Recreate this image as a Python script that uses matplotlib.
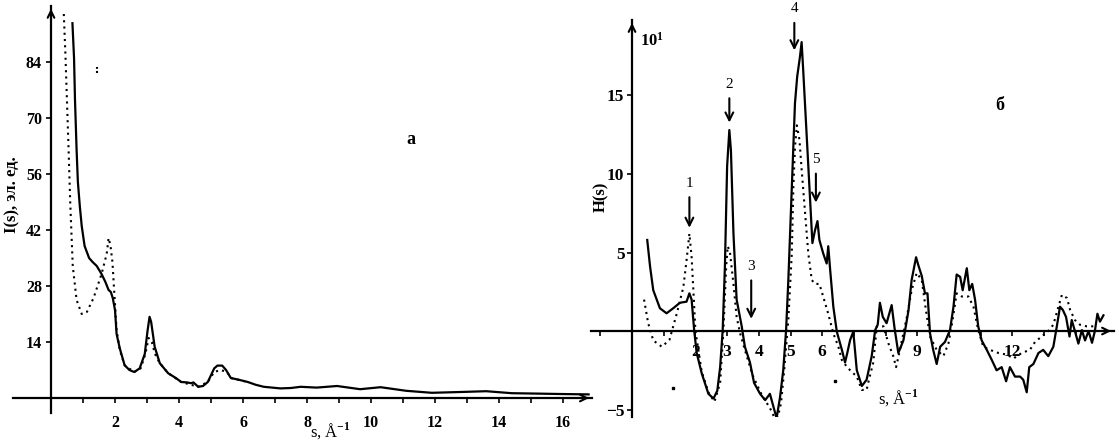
import matplotlib
matplotlib.use("Agg")
import matplotlib.pyplot as plt

W, H = 1119, 445

# --- panel "а": I(s) ---
s_i = [0.67, 0.72, 0.75, 0.8, 0.84, 0.9, 0.96, 1.05, 1.19, 1.3, 1.43, 1.58, 1.7, 1.8, 1.87,
       1.93, 2.0, 2.05, 2.15, 2.3, 2.45, 2.6, 2.77, 2.93, 3.02, 3.08, 3.13, 3.24, 3.4, 3.66,
       3.9, 4.07, 4.25, 4.38, 4.45, 4.6, 4.75, 4.9, 5.1, 5.2, 5.35, 5.47, 5.62, 5.9, 6.15,
       6.4, 6.65, 7.17, 7.5, 7.8, 8.3, 8.94, 9.66, 10.3, 11.1, 11.9, 12.8, 13.6, 14.4, 15.2,
       15.9, 16.8]
i_solid = [93.7, 85, 74.5, 62, 54, 48, 43, 38, 35, 34, 33, 31, 29, 27, 26.5,
           25, 22, 16, 12.4, 8.2, 7, 6.5, 7.4, 11, 17, 20.3, 19, 12.8, 8.7, 6.2,
           5, 4, 3.9, 3.7, 3.9, 2.8, 3.0, 4, 7.4, 8.1, 8.1, 7, 5, 4.5, 4,
           3.3, 2.8, 2.4, 2.5, 2.8, 2.6, 3, 2.2, 2.7, 1.8, 1.3, 1.5, 1.7, 1.2, 1.1,
           1.0, 0.9]

s_i_dot = [0.4, 0.45, 0.5, 0.55, 0.6, 0.68, 0.8, 0.96, 1.12, 1.33, 1.58, 1.74, 1.8, 1.86,
           1.92, 1.98, 2.05, 2.15, 2.3, 2.6, 2.8, 2.95, 3.05, 3.15, 3.25, 3.4, 3.66, 4.07,
           4.6, 4.9, 5.1, 5.3, 5.5, 5.62, 6.15]
i_dot = [96, 86, 74, 62, 49, 33, 24.5, 21, 21.5, 25, 31, 36, 40, 38,
         34, 26, 17, 12, 8.2, 6.5, 7.4, 11, 15, 14, 11, 8.7, 6.2, 4,
         2.8, 4, 6.5, 7, 6.5, 5, 4]

# stray dots (":" near s=1.4)
s_i_stray = [1.43, 1.43]
i_stray = [81.3, 82.8]

i_xticks = list(range(1, 17))
i_yticks = [14, 28, 42, 56, 70, 84]

# --- panel "б": H(s) ---
s_h = [0.48, 0.57, 0.67, 0.88, 1.09, 1.3, 1.51, 1.72, 1.81, 1.88, 1.96, 2.04, 2.2, 2.41,
       2.57, 2.69, 2.78, 2.86, 2.93, 3.0, 3.07, 3.12, 3.2, 3.3, 3.46, 3.56, 3.72, 3.85,
       4.04, 4.2, 4.35, 4.46, 4.56, 4.67, 4.77, 4.86, 4.93, 5.04, 5.14, 5.21, 5.3, 5.35,
       5.4, 5.51, 5.62, 5.69, 5.77, 5.85, 5.91, 6.03, 6.14, 6.19, 6.25, 6.35, 6.46, 6.62,
       6.72, 6.79, 6.88, 6.98, 7.09, 7.25, 7.4, 7.56, 7.67, 7.75, 7.82, 7.91, 8.03, 8.19,
       8.28, 8.4, 8.56, 8.72, 8.82, 8.96, 9.03, 9.14, 9.24, 9.32, 9.4, 9.5, 9.61, 9.72,
       9.87, 10.03, 10.14, 10.24, 10.35, 10.43, 10.56, 10.64, 10.73, 10.82, 10.92, 11.03,
       11.19, 11.35, 11.5, 11.66, 11.8, 11.92, 12.08, 12.24, 12.34, 12.45, 12.53, 12.66,
       12.82, 12.97, 13.13, 13.29, 13.4, 13.5, 13.59, 13.69, 13.8, 13.87, 13.97, 14.08,
       14.19, 14.29, 14.4, 14.51, 14.6, 14.68, 14.76, 14.87]
h_solid = [5.8, 4.1, 2.6, 1.45, 1.13, 1.45, 1.8, 1.87, 2.4, 2.0, 0.06, -1.4, -2.7, -4.0,
           -4.3, -3.8, -2.3, 0.06, 4.1, 10.5, 12.8, 11.5, 6.2, 2.0, 0.3, -1.0, -2.0, -3.3,
           -4.0, -4.4, -4.0, -4.8, -5.55, -4.2, -2.5, 0.06, 3.2, 9.2, 14.5, 16.2, 17.5, 18.4,
           16.6, 12.4, 8.1, 5.6, 6.4, 7.0, 5.8, 4.95, 4.3, 5.4, 3.9, 1.55, -0.04, -1.2,
           -2.0, -1.4, -0.57, -0.04, -2.5, -3.5, -3.1, -1.6, 0.06, 0.4, 1.8, 0.9, 0.5, 1.65,
           0.2, -1.4, -0.6, 1.3, 3.25, 4.7, 4.2, 3.5, 2.4, 2.4, -0.15, -1.2, -2.1, -1.0,
           -0.7, 0.06, 1.55, 3.6, 3.45, 2.6, 4.0, 2.6, 3.0, 2.0, 0.3, -0.6,
           -1.2, -1.85, -2.5, -2.3, -3.2, -2.3, -2.9, -2.9, -3.1, -3.9, -2.3, -2.1,
           -1.4, -1.2, -1.6, -1.0, 0.3, 1.55, 1.34, 0.9, -0.35, 0.7, 0.0, -0.8,
           0.06, -0.6, 0.0, -0.75, 0.0, 1.1, 0.6, 1.0]

s_h_dot = [0.38, 0.51, 0.67, 0.94, 1.18, 1.41, 1.62, 1.72, 1.81, 1.88, 1.93, 2.0, 2.2, 2.41,
           2.6, 2.78, 2.88, 2.97, 3.02, 3.09, 3.2, 3.3, 3.41, 3.56, 3.8, 4.1, 4.35, 4.56,
           4.7, 4.8, 4.93, 5.04, 5.09, 5.14, 5.2, 5.28, 5.35, 5.46, 5.56, 5.67, 5.77, 5.91,
           6.03, 6.19, 6.35, 6.51, 6.62, 6.75, 6.88, 7.09, 7.25, 7.4, 7.45, 7.61, 7.72, 7.93,
           8.09, 8.24, 8.33, 8.45, 8.67, 8.82, 8.98, 9.14, 9.27, 9.4, 9.61, 9.82, 9.98, 10.08,
           10.24, 10.4, 10.61, 10.77, 10.92, 11.08, 11.29, 11.56, 11.82, 12.03, 12.29, 12.55,
           12.71, 12.92, 13.13, 13.29, 13.45, 13.56, 13.72, 13.82, 13.97, 14.13, 14.34, 14.55]
h_dot = [2.0, 0.5, -0.6, -1.0, -0.57, 1.1, 2.8, 4.5, 6.2, 4.7, 2.8, 0.0, -2.6, -3.9,
         -4.5, -3.3, -0.1, 4.1, 5.4, 5.0, 3.0, 0.9, -0.15, -1.2, -2.8, -4.1, -4.9, -5.8,
         -4.6, -2.5, 0.7, 4.95, 9.2, 11.7, 13.1, 12.2, 10.3, 7.5, 4.95, 3.25, 3.0, 3.0,
         2.2, 1.1, -0.15, -1.0, -1.85, -2.2, -2.5, -2.9, -3.75, -3.75, -3.3, -2.0, 0.3, 0.3,
         -0.8, -1.6, -2.3, -1.2, 0.9, 2.6, 3.7, 3.25, 1.34, -0.35, -1.2, -1.6, -0.8, 0.3,
         2.4, 2.2, 2.2, 1.55, 0.06, -1.0, -1.2, -1.4, -1.5, -1.75, -1.4, -1.2,
         -0.7, -0.35, 0.0, 0.4, 1.55, 2.3, 2.1, 1.34, 0.7, 0.4, 0.3, 0.3]

s_h_stray = [1.28, 6.4]
h_stray = [-3.6, -3.2]

h_xticks = [-1, 1, 2, 3, 4, 5, 6, 7, 8, 9, 10, 11, 12, 13, 14]
h_xlabels = {2: "2", 3: "3", 4: "4", 5: "5", 6: "6", 9: "9", 12: "12"}
h_yticks = [-5, 5, 10, 15]

# peak markers: number, s position, arrow top / tip in H units
peak_num = ["1", "2", "3", "4", "5"]
peak_s = [1.81, 3.07, 3.76, 5.12, 5.8]
peak_top = [8.7, 15.0, 3.4, 19.8, 10.2]
peak_tip = [6.4, 13.1, 0.6, 17.7, 8.0]

SERIF = ["Liberation Serif", "DejaVu Serif"]
plt.rcParams["font.family"] = SERIF
plt.rcParams["mathtext.fontset"] = "custom"
plt.rcParams["mathtext.rm"] = "Liberation Serif"
plt.rcParams["mathtext.bf"] = "Liberation Serif:bold"


def eixos_px(fig, x0, x1, y0, y1):
    # y0 = top pixel, y1 = bottom pixel
    return fig.add_axes([x0 / W, 1 - y1 / H, (x1 - x0) / W, (y1 - y0) / H])


def estilo_eixos(ax, xlim, ylim, ypad, xpad, fs):
    ax.set_xlim(*xlim)
    ax.set_ylim(*ylim)
    ax.patch.set_alpha(0)
    for lado in ["top", "right"]:
        ax.spines[lado].set_visible(False)
    ax.spines["left"].set_position(("data", 0))
    ax.spines["bottom"].set_position(("data", 0))
    for lado in ["left", "bottom"]:
        ax.spines[lado].set_linewidth(1.6)
    ax.tick_params(direction="out", length=3.5, width=1.2, labelsize=fs)
    ax.tick_params(axis="x", pad=xpad)
    ax.tick_params(axis="y", pad=ypad)
    for t in ax.get_xticklabels() + ax.get_yticklabels():
        t.set_fontweight("bold")
    # arrow heads at the axis ends
    dx = (xlim[1] - xlim[0]) * 0.02
    dy = (ylim[1] - ylim[0]) * 0.04
    ax.annotate("", xy=(xlim[1], 0), xytext=(xlim[1] - dx, 0),
                arrowprops=dict(arrowstyle="->", lw=1.5, mutation_scale=12),
                annotation_clip=False)
    ax.annotate("", xy=(0, ylim[1]), xytext=(0, ylim[1] - dy),
                arrowprops=dict(arrowstyle="->", lw=1.5, mutation_scale=12),
                annotation_clip=False)


fig = plt.figure(figsize=(W / 100, H / 100), dpi=100)

# ---- panel а ----
ax_i = eixos_px(fig, 12.6, 591.8, 6.0, 412.8)
ax_i.plot(s_i, i_solid, color="black", lw=1.6, solid_joinstyle="round")
ax_i.plot(s_i_dot, i_dot, color="black", lw=1.5, linestyle=(0, (1, 2)))
ax_i.plot(s_i_stray, i_stray, color="black", lw=1.5, linestyle=(0, (1, 1)))
ax_i.set_xticks(i_xticks)
ax_i.set_xticklabels([str(v) if v % 2 == 0 else "" for v in i_xticks])
ax_i.set_yticks(i_yticks)
estilo_eixos(ax_i, (-1.2, 16.9), (-3.7, 98), 3, 9, 11.5)

fig.text(12 / W, 1 - 195 / H, "I(s), эл. ед.", rotation=90, ha="center", va="center",
         fontsize=12, fontweight="bold")
fig.text(330 / W, 1 - 431 / H, r"s, Å$^{\mathbf{-1}}$", ha="center", va="center", fontsize=12)
fig.text(411 / W, 1 - 140 / H, "а", ha="center", va="center", fontsize=13, fontweight="bold")

# ---- panel б ----
ax_h = eixos_px(fig, 590.8, 1113.9, 20.1, 417.4)
ax_h.plot(s_h, h_solid, color="black", lw=1.6, solid_joinstyle="round")
ax_h.plot(s_h_dot, h_dot, color="black", lw=1.5, linestyle=(0, (1, 2)))
ax_h.plot(s_h_stray, h_stray, "s", color="black", ms=1.5)
ax_h.set_xticks(h_xticks)
ax_h.set_xticklabels([h_xlabels.get(v, "") for v in h_xticks])
ax_h.set_yticks(h_yticks)
estilo_eixos(ax_h, (-1.3, 15.2), (-5.5, 19.8), 2, 6, 12.5)

for num, sp, topo, ponta in zip(peak_num, peak_s, peak_top, peak_tip):
    ax_h.annotate("", xy=(sp, ponta), xytext=(sp, topo),
                  arrowprops=dict(arrowstyle="->", lw=1.5, mutation_scale=14))
    ax_h.text(sp, topo + 0.3, num, ha="center", va="bottom", fontsize=11)

fig.text(601 / W, 1 - 197 / H, "H(s)", rotation=90, ha="center", va="center",
         fontsize=12, fontweight="bold")
fig.text(652 / W, 1 - 41 / H, r"$\mathbf{10^1}$", ha="center", va="center", fontsize=12)
fig.text(898 / W, 1 - 398 / H, r"s, Å$^{\mathbf{-1}}$", ha="center", va="center", fontsize=12)
fig.text(1000 / W, 1 - 105 / H, "б", ha="center", va="center", fontsize=13, fontweight="bold")

fig.savefig("out.png", dpi=100)
